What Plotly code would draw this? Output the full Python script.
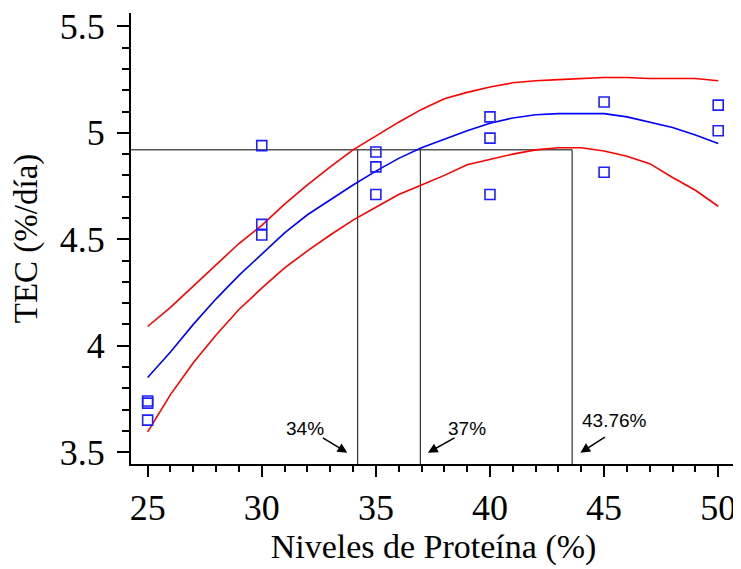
import plotly.graph_objects as go

# Observed data (protein level %, TEC %/day)
obs_x = [25, 25, 25, 30, 30, 30, 35, 35, 35, 40, 40, 40, 45, 45, 50, 50]
obs_y = [3.74, 3.73, 3.65, 4.94, 4.57, 4.52, 4.91, 4.84, 4.71, 5.075, 4.975, 4.71, 5.145, 4.815, 5.13, 5.01]

# Fitted curve and confidence bands
curve_x = [25, 26, 27, 28, 29, 30, 31, 32, 33, 34, 35, 36, 37, 38, 39, 40, 41, 42, 43, 44, 45, 46, 47, 48, 49, 50]
fit_y = [3.85, 3.97, 4.10, 4.22, 4.33, 4.43, 4.53, 4.615, 4.685, 4.755, 4.82, 4.88, 4.93, 4.97, 5.01, 5.045,
         5.07, 5.085, 5.09, 5.09, 5.09, 5.075, 5.05, 5.025, 4.99, 4.95]
upper_y = [4.09, 4.18, 4.28, 4.38, 4.48, 4.565, 4.665, 4.755, 4.84, 4.92, 4.985, 5.05, 5.11, 5.16, 5.19, 5.215,
           5.235, 5.245, 5.25, 5.255, 5.26, 5.26, 5.255, 5.255, 5.255, 5.245]
lower_y = [3.595, 3.77, 3.92, 4.05, 4.17, 4.27, 4.365, 4.445, 4.52, 4.59, 4.65, 4.71, 4.755, 4.80, 4.85, 4.875,
           4.90, 4.92, 4.93, 4.93, 4.915, 4.89, 4.855, 4.79, 4.73, 4.655]

# Reference lines
ref_level = 4.92
ref_x = [34.2, 36.95, 43.6]
ref_labels = ["34%", "37%", "43.76%"]

x_ticks = [25, 30, 35, 40, 45, 50]
y_ticks = [3.5, 4, 4.5, 5, 5.5]

X_RANGE = [24.27, 50.78]
Y_RANGE = [3.444, 5.563]

fig = go.Figure()

# horizontal reference line
fig.add_trace(go.Scatter(x=[X_RANGE[0], ref_x[2]], y=[ref_level, ref_level], mode="lines",
                         line=dict(color="#555555", width=1.5), hoverinfo="skip", showlegend=False))
# vertical reference lines
for rx in ref_x:
    fig.add_trace(go.Scatter(x=[rx, rx], y=[ref_level, Y_RANGE[0]], mode="lines",
                             line=dict(color="#333333", width=1.2), hoverinfo="skip", showlegend=False))

fig.add_trace(go.Scatter(x=curve_x, y=upper_y, mode="lines", line=dict(color="#ff0000", width=1.6), showlegend=False))
fig.add_trace(go.Scatter(x=curve_x, y=lower_y, mode="lines", line=dict(color="#ff0000", width=1.6), showlegend=False))
fig.add_trace(go.Scatter(x=curve_x, y=fit_y, mode="lines", line=dict(color="#0000ff", width=1.6), showlegend=False))
fig.add_trace(go.Scatter(x=obs_x, y=obs_y, mode="markers",
                         marker=dict(symbol="square-open", size=10, color="#1f1fff", line=dict(width=1.6, color="#1f1fff")),
                         showlegend=False))

# arrows + labels
arrow_tails = [(32.61, 3.571), (38.51, 3.571), (45.10, 3.575)]
arrow_heads = [(33.75, 3.497), (37.28, 3.497), (43.96, 3.497)]
label_pos = [(31.91, 3.613), (38.99, 3.613), (45.45, 3.650)]
for (tx, ty), (hx, hy), (lx, ly), lab in zip(arrow_tails, arrow_heads, label_pos, ref_labels):
    fig.add_annotation(x=hx, y=hy, ax=tx, ay=ty, xref="x", yref="y", axref="x", ayref="y",
                       text="", showarrow=True, arrowhead=2, arrowsize=1.3, arrowwidth=1.5,
                       arrowcolor="black", standoff=0, startstandoff=0)
    fig.add_annotation(x=lx, y=ly, xref="x", yref="y", text=lab, showarrow=False,
                       font=dict(family="Liberation Sans, Arial", size=19, color="black"))

serif = "Liberation Serif, Times New Roman, serif"
axis_font = dict(family=serif, size=36, color="black")
fig.update_xaxes(range=X_RANGE, tickvals=x_ticks, ticks="outside", ticklen=11, tickwidth=1.5, tickcolor="black",
                 showline=True, linecolor="black", linewidth=2, showgrid=False, zeroline=False,
                 tickfont=axis_font, automargin=False, ticklabeloverflow="allow",
                 minor=dict(dtick=1, tick0=25, ticks="outside", ticklen=6, tickwidth=1.5, tickcolor="black", showgrid=False),
                 title=dict(text="Niveles de Proteína (%)", font=dict(family=serif, size=34, color="black"), standoff=4))
fig.update_yaxes(range=Y_RANGE, tickvals=y_ticks, ticks="outside", ticklen=12, tickwidth=1.5, tickcolor="black",
                 showline=True, linecolor="black", linewidth=2, showgrid=False, zeroline=False,
                 tickfont=axis_font, automargin=False, ticklabeloverflow="allow", ticklabelstandoff=5,
                 minor=dict(dtick=0.1, tick0=3.5, ticks="outside", ticklen=7, tickwidth=1.5, tickcolor="black", showgrid=False),
                 title=dict(text="TEC (%/día)", font=dict(family=serif, size=33, color="black"), standoff=14))

# page body has an 8px default margin, so size/margins are compensated
fig.update_layout(width=733, height=561, margin=dict(l=123, r=5, t=5, b=105),
                  paper_bgcolor="white", plot_bgcolor="white", showlegend=False)

fig.write_html("out.html")
